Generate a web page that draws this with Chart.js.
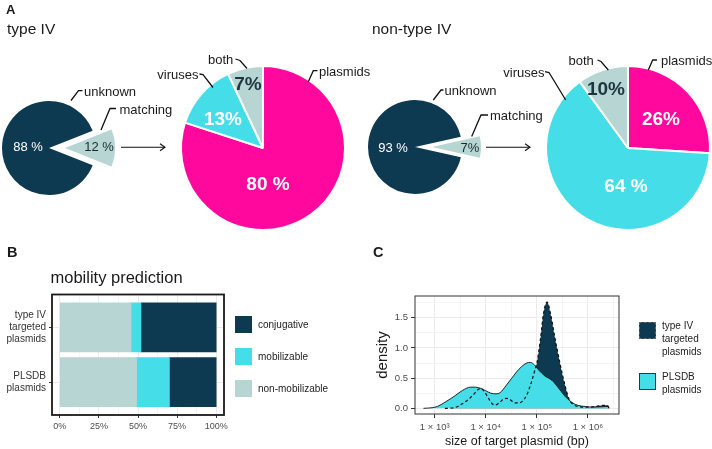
<!DOCTYPE html>
<html><head><meta charset="utf-8">
<script src="https://cdn.jsdelivr.net/npm/chart.js@4.4.1/dist/chart.umd.min.js"></script>
<style>
html,body{margin:0;padding:0;background:#fff}
body{width:712px;height:449px;position:relative;overflow:hidden;font-family:"Liberation Sans",Arial,Helvetica,sans-serif;color:#1a1a1a}
canvas{position:absolute}
.t{position:absolute;white-space:nowrap;line-height:1}
svg{position:absolute;left:0;top:0}
.key{position:absolute;box-sizing:border-box}
</style></head><body>
<canvas id="smallL" width="110" height="110" style="left:-6px;top:93px"></canvas>
<canvas id="smallLw" width="110" height="110" style="left:10px;top:93px"></canvas>
<canvas id="smallR" width="110" height="110" style="left:360px;top:92px"></canvas>
<canvas id="smallRw" width="110" height="110" style="left:377px;top:92px"></canvas>
<canvas id="bigL" width="180" height="180" style="left:173px;top:58px"></canvas>
<canvas id="bigR" width="180" height="180" style="left:538px;top:58px"></canvas>
<canvas id="mob" width="232" height="150" style="left:0px;top:285px"></canvas>
<canvas id="dens" width="262" height="164" style="left:360px;top:285px"></canvas>
<svg id="ann" width="712" height="449"></svg>
<script>
// ---------------- data ----------------
const overviewCategories = ['matching', 'unknown'];
const typeIVOverview = [12, 88];
const nonTypeIVOverview = [7, 93];

const targetCategories = ['plasmids', 'viruses', 'both'];
const typeIVTargets = [80, 13, 7];
const nonTypeIVTargets = [26, 64, 10];

const mobilityGroups = [['type IV', 'targeted', 'plasmids'], ['PLSDB', 'plasmids']];
const mobilityClasses = ['non-mobilizable', 'mobilizable', 'conjugative'];
const nonMobilizableShare = [45.5, 49.1];
const mobilizableShare = [6.4, 21.0];
const conjugativeShare = [48.1, 29.9];
const percentTicks = [0, 25, 50, 75, 100];

const sizeTickExponents = [3, 4, 5, 6];
const densityTicks = [0, 0.5, 1.0, 1.5];
const typeIVLog10Size = [3.2, 3.35, 3.45, 3.55, 3.65, 3.75, 3.85, 3.9, 3.97, 4.05, 4.12, 4.18, 4.26, 4.33, 4.4, 4.48, 4.57, 4.65, 4.72, 4.8, 4.88, 4.95, 5.0, 5.07, 5.13, 5.2, 5.27, 5.35, 5.45, 5.55, 5.63, 5.72, 5.85, 6.0, 6.15, 6.3, 6.38, 6.41];
const typeIVDensity = [0, 0.005, 0.03, 0.08, 0.14, 0.22, 0.31, 0.33, 0.28, 0.17, 0.08, 0.055, 0.09, 0.14, 0.165, 0.14, 0.09, 0.09, 0.12, 0.22, 0.4, 0.6, 0.75, 1.15, 1.57, 1.76, 1.55, 1.18, 0.75, 0.38, 0.15, 0.06, 0.025, 0.02, 0.03, 0.05, 0.05, 0];
const plsdbLog10Size = [2.78, 2.95, 3.05, 3.2, 3.4, 3.55, 3.7, 3.8, 3.9, 4.0, 4.1, 4.2, 4.28, 4.4, 4.5, 4.6, 4.7, 4.8, 4.87, 4.95, 5.05, 5.15, 5.3, 5.42, 5.55, 5.68, 5.8, 5.95, 6.1, 6.25, 6.35, 6.4, 6.41];
const plsdbDensity = [0, 0.01, 0.03, 0.1, 0.21, 0.3, 0.35, 0.35, 0.33, 0.29, 0.25, 0.24, 0.26, 0.38, 0.49, 0.6, 0.69, 0.75, 0.76, 0.72, 0.62, 0.54, 0.46, 0.34, 0.2, 0.1, 0.05, 0.03, 0.02, 0.025, 0.03, 0.03, 0];

// ---------------- style ----------------
const NAVY = '#0e3a51', CYAN = '#45dde8', PINK = '#ff089e', PALE = '#b6d5d3', CLEAR = 'rgba(0,0,0,0)';
const FONT = '"Liberation Sans", Arial, Helvetica, sans-serif';
Chart.defaults.font.family = FONT;
Chart.defaults.color = '#4d4d4d';

const boxPlugin = {
  id: 'box',
  afterDraw(chart, args, opts) {
    const a = chart.chartArea, c = chart.ctx;
    c.save(); c.strokeStyle = opts.color; c.lineWidth = opts.width;
    c.strokeRect(a.left, a.top, a.right - a.left, a.bottom - a.top); c.restore();
  }
};
function noPad(sc) { sc.paddingTop = 0; sc.paddingBottom = 0; sc.paddingLeft = 0; sc.paddingRight = 0; }

function txt(s, x, y, o = {}) {
  const d = document.createElement('div');
  d.className = 't'; d.textContent = s;
  d.style.fontSize = (o.size || 13) + 'px';
  d.style.fontWeight = o.weight || 'normal';
  d.style.color = o.color || '#1a1a1a';
  d.style.left = x + 'px'; d.style.top = y + 'px';
  const tx = o.align === 'center' ? '-50%' : o.align === 'right' ? '-100%' : '0';
  d.style.transform = `translate(${tx},-50%)`;
  document.body.appendChild(d);
}

function pie(id, labels, values, colors, radius, rotation, borderWidth) {
  return new Chart(document.getElementById(id), {
    type: 'pie',
    data: { labels, datasets: [{ data: values, backgroundColor: colors, borderColor: '#fff', borderWidth }] },
    options: {
      responsive: false, animation: false, events: [], rotation, radius,
      layout: { padding: 0 },
      plugins: { legend: { display: false }, tooltip: { enabled: false } }
    }
  });
}

// ---------------- panel A ----------------
const halfL = typeIVOverview[0] / 100 * 180;
const halfR = nonTypeIVOverview[0] / 100 * 180;
pie('smallL', overviewCategories, typeIVOverview, [CLEAR, NAVY], 47, 90 - halfL, 0);
pie('smallLw', overviewCategories, typeIVOverview, [PALE, CLEAR], 50, 90 - halfL, 0);
pie('smallR', overviewCategories, nonTypeIVOverview, [CLEAR, NAVY], 47, 90 - halfR, 0);
pie('smallRw', overviewCategories, nonTypeIVOverview, [PALE, CLEAR], 49, 90 - halfR, 0);
pie('bigL', targetCategories, typeIVTargets, [PINK, CYAN, PALE], 82, 0, 2);
pie('bigR', targetCategories, nonTypeIVTargets, [PINK, CYAN, PALE], 82, 0, 2);

txt('A', 6, 9, { size: 13, weight: 'bold' });
txt('type IV', 7, 29, { size: 15.5 });
txt('non-type IV', 372, 29, { size: 15.5 });

txt(typeIVOverview[1] + ' %', 28, 146, { align: 'center', color: '#fff' });
txt(typeIVOverview[0] + ' %', 99, 146, { align: 'center', color: '#1a2a30' });
txt(nonTypeIVOverview[1] + ' %', 393, 146.5, { align: 'center', color: '#fff' });
txt(nonTypeIVOverview[0] + '%', 470, 146.5, { align: 'center', color: '#1a2a30' });
txt(overviewCategories[1], 84, 91);
txt(overviewCategories[0], 119.5, 109);
txt(overviewCategories[1], 444.5, 90);
txt(overviewCategories[0], 490, 115);

txt(targetCategories[1], 198.5, 74, { align: 'right' });
txt(targetCategories[2], 208, 59);
txt(targetCategories[0], 319, 70.5);
txt(targetCategories[2], 568.5, 60);
txt(targetCategories[1], 544.5, 71.5, { align: 'right' });
txt(targetCategories[0], 661, 60);

const B = { size: 19, weight: 'bold', align: 'center' };
txt(typeIVTargets[2] + '%', 248, 83, { ...B, color: '#1e3540' });
txt(typeIVTargets[1] + '%', 223, 118, { ...B, color: '#fff' });
txt(typeIVTargets[0] + ' %', 268, 183, { ...B, color: '#fff' });
txt(nonTypeIVTargets[2] + '%', 606, 87.5, { ...B, color: '#1e3540' });
txt(nonTypeIVTargets[0] + '%', 661, 118, { ...B, color: '#fff' });
txt(nonTypeIVTargets[1] + ' %', 626, 185, { ...B, color: '#fff' });

// leader lines and arrows
const svg = document.getElementById('ann');
const leaders = [
  [[71, 100.5], [78.5, 90.7], [82.5, 90.7]],
  [[101, 130], [110, 108.5], [116, 108.5]],
  [[199.5, 74], [203, 74.5], [213, 87.5]],
  [[235.5, 59], [240, 60.5], [247, 68.5]],
  [[317.5, 70.7], [313.3, 70.7], [308.3, 81.7]],
  [[433.3, 100], [441, 90], [443.5, 90]],
  [[471.7, 136.5], [481, 115], [488, 115]],
  [[597.5, 60], [601, 61.5], [608.3, 70]],
  [[545, 71.7], [549, 72.5], [565.7, 100]],
  [[657, 60], [652.7, 60], [648.3, 70]]
];
let s = '';
for (const l of leaders) s += `<polyline points="${l.map(p => p.join(',')).join(' ')}" fill="none" stroke="#111" stroke-width="1.3"/>`;
for (const [x1, x2, y] of [[121, 165, 147.3], [486, 530, 147.3]]) {
  s += `<line x1="${x1}" y1="${y}" x2="${x2}" y2="${y}" stroke="#111" stroke-width="1.1"/>`;
  s += `<polyline points="${x2 - 5},${y - 3.5} ${x2},${y} ${x2 - 5},${y + 3.5}" fill="none" stroke="#111" stroke-width="1.1"/>`;
}
svg.innerHTML = s;

// ---------------- panel B ----------------
txt('B', 7, 252, { size: 14.5, weight: 'bold' });
txt('mobility prediction', 50.5, 277, { size: 16.5 });
const mobColors = [PALE, CYAN, NAVY];
const mobValues = [nonMobilizableShare, mobilizableShare, conjugativeShare];
new Chart(document.getElementById('mob'), {
  type: 'bar',
  data: {
    datasets: mobilityClasses.map((c, k) => ({
      label: c,
      data: mobValues[k].map((v, i) => ({ x: v, y: 2 - i })),
      backgroundColor: mobColors[k], borderWidth: 0, barThickness: 49.3
    }))
  },
  options: {
    indexAxis: 'y', responsive: false, animation: false, events: [],
    layout: { padding: { top: 9.5, right: 8, left: 0, bottom: 0 } },
    scales: {
      x: {
        type: 'linear', stacked: true, min: -5, max: 105, offset: false,
        afterBuildTicks: sc => { sc.ticks = [0, 12.5, 25, 37.5, 50, 62.5, 75, 87.5, 100].map(v => ({ value: v })); },
        afterFit: sc => { sc.height = 20; noPad(sc); },
        grid: { offset: false, color: c => c.index % 2 ? '#f4f4f4' : '#ebebeb', tickColor: c => c.index % 2 ? CLEAR : '#333', tickLength: 3 },
        border: { display: false },
        ticks: { autoSkip: false, maxRotation: 0, padding: 3, color: '#4d4d4d', font: { size: 9 },
          callback: (v, i) => (i % 2 ? '' : (percentTicks.includes(v) ? v + '%' : '')) }
      },
      y: {
        type: 'linear', stacked: true, min: 0.4, max: 2.6, offset: false,
        afterBuildTicks: sc => { sc.ticks = [{ value: 1 }, { value: 2 }]; },
        afterFit: sc => { sc.width = 52; noPad(sc); },
        grid: { offset: false, color: '#ebebeb', tickColor: '#333', tickLength: 3 },
        border: { display: false },
        ticks: { autoSkip: false, padding: 3, color: '#333', font: { size: 10, lineHeight: 1.2 },
          callback: v => (v === 2 ? mobilityGroups[0] : mobilityGroups[1]) }
      }
    },
    plugins: { legend: { display: false }, tooltip: { enabled: false }, box: { color: '#1a1a1a', width: 1.8 } }
  },
  plugins: [boxPlugin]
});
const legB = [[2, 316], [1, 348.3], [0, 380]];
for (const [k, y] of legB) {
  const d = document.createElement('div'); d.className = 'key';
  Object.assign(d.style, { left: '235px', top: y + 'px', width: '17px', height: '17px', background: mobColors[k] });
  document.body.appendChild(d);
  txt(mobilityClasses[k], 258, y + 8.5, { size: 10, color: '#222' });
}

// ---------------- panel C ----------------
txt('C', 373, 252, { size: 14.5, weight: 'bold' });
const SUP = { 3: '\u00b3', 4: '\u2074', 5: '\u2075', 6: '\u2076' };
const typeIVPts = typeIVLog10Size.map((l, i) => ({ x: Math.pow(10, l), y: typeIVDensity[i] }));
const plsdbPts = plsdbLog10Size.map((l, i) => ({ x: Math.pow(10, l), y: plsdbDensity[i] }));
const xGrid = [];
sizeTickExponents.forEach(e => { xGrid.push(e, e + 0.5); });
const yGrid = [];
densityTicks.forEach(v => { yGrid.push(v, v + 0.25); });
new Chart(document.getElementById('dens'), {
  type: 'line',
  data: {
    datasets: [
      { label: 'type IV targeted plasmids', data: typeIVPts, fill: 'origin', backgroundColor: NAVY, borderColor: CLEAR, borderWidth: 0, pointRadius: 0, order: 3 },
      { label: 'PLSDB plasmids', data: plsdbPts, fill: 'origin', backgroundColor: CYAN, borderColor: '#111', borderWidth: 0.9, pointRadius: 0, order: 2 },
      { label: 'type IV outline', data: typeIVPts, fill: false, borderColor: '#111', borderWidth: 1.2, borderDash: [3, 2.5], pointRadius: 0, order: 1 }
    ]
  },
  options: {
    responsive: false, animation: false, events: [],
    layout: { padding: { top: 11, right: 3, left: 0, bottom: 0 } },
    elements: { line: { cubicInterpolationMode: 'monotone' } },
    scales: {
      x: {
        type: 'logarithmic', min: Math.pow(10, 2.614), max: Math.pow(10, 6.607),
        afterBuildTicks: sc => { sc.ticks = xGrid.map(e => ({ value: Math.pow(10, e) })); },
        afterFit: sc => { sc.height = 35; noPad(sc); },
        grid: { color: c => c.index % 2 ? '#f4f4f4' : '#ebebeb', tickColor: c => c.index % 2 ? CLEAR : '#333', tickLength: 4 },
        border: { display: false },
        ticks: { autoSkip: false, maxRotation: 0, padding: 4, color: '#4d4d4d', font: { size: 9.5 },
          callback: (v, i) => (i % 2 ? '' : '1 \u00d7 10' + SUP[xGrid[i]]) },
        title: { display: true, text: 'size of target plasmid (bp)', color: '#1a1a1a', font: { size: 12.5 }, padding: { top: 0, bottom: 0 } }
      },
      y: {
        type: 'linear', min: -0.094, max: 1.859,
        afterBuildTicks: sc => { sc.ticks = yGrid.map(v => ({ value: v })); },
        afterFit: sc => { sc.width = 55; noPad(sc); },
        grid: { color: c => c.index % 2 ? '#f4f4f4' : '#ebebeb', tickColor: c => c.index % 2 ? CLEAR : '#333', tickLength: 4 },
        border: { display: false },
        ticks: { autoSkip: false, padding: 3, color: '#4d4d4d', font: { size: 9.5 },
          callback: (v, i) => (i % 2 ? '' : v.toFixed(1)) },
        title: { display: true, text: 'density', color: '#1a1a1a', font: { size: 15 }, padding: { top: 14, bottom: 0 } }
      }
    },
    plugins: { legend: { display: false }, tooltip: { enabled: false }, box: { color: '#333', width: 1 } }
  },
  plugins: [boxPlugin]
});
const legC = [
  { color: NAVY, border: '1px dashed #666', y: 322, lines: ['type IV', 'targeted', 'plasmids'] },
  { color: CYAN, border: '1px solid #333', y: 373, lines: ['PLSDB', 'plasmids'] }
];
for (const it of legC) {
  const d = document.createElement('div'); d.className = 'key';
  Object.assign(d.style, { left: '639px', top: it.y + 'px', width: '17px', height: '17px', background: it.color, border: it.border });
  document.body.appendChild(d);
  it.lines.forEach((ln, j) => txt(ln, 662, it.y + 4 + j * 12.9, { size: 10, color: '#222' }));
}
</script>
</body></html>
